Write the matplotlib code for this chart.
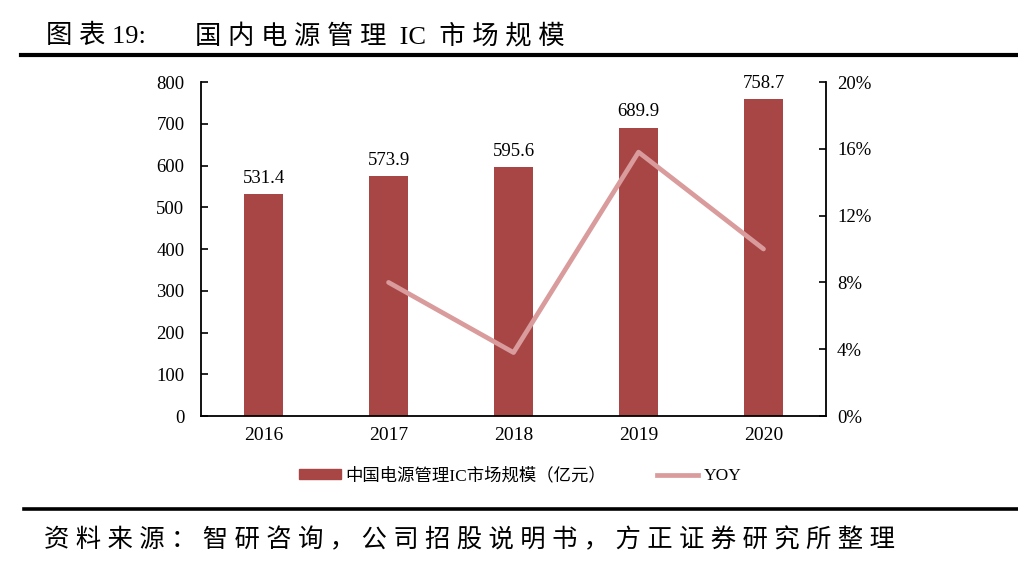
import matplotlib
matplotlib.use("Agg")
import matplotlib.pyplot as plt
from matplotlib.lines import Line2D
from matplotlib.patches import Patch
import numpy as np

plt.rcParams['font.family'] = ['Liberation Serif', 'Noto Sans CJK SC']

years = ['2016', '2017', '2018', '2019', '2020']
market_size = [531.4, 573.9, 595.6, 689.9, 758.7]
yoy_years = ['2017', '2018', '2019', '2020']
yoy = [0.080, 0.038, 0.158, 0.100]
left_ticks = [0, 100, 200, 300, 400, 500, 600, 700, 800]
right_ticks = [0, 0.04, 0.08, 0.12, 0.16, 0.20]

bar_color = '#A84646'
line_color = '#D99B9B'

W, H = 1018, 564
fig = plt.figure(figsize=(W / 100, H / 100), dpi=100)
ax = fig.add_axes([0.1975, 0.2624, 0.6139, 0.5922])
x = np.arange(len(years))
ax.bar(x, market_size, width=0.31, color=bar_color, zorder=2)
for xi, v in zip(x, market_size):
    ax.text(xi, v + 18, f'{v:.1f}', ha='center', va='bottom', fontsize=13.5)

ax.set_xlim(-0.5, len(years) - 0.5)
ax.set_ylim(0, 800)
ax.set_yticks(left_ticks)
ax.set_xticks(x)
ax.set_xticklabels(years)
ax.tick_params(axis='y', direction='in', length=5, width=1.2, labelsize=13.5, pad=12)
ax.tick_params(axis='x', length=0, labelsize=14, pad=8)
for s in ['top', 'right']:
    ax.spines[s].set_visible(False)
ax.spines['left'].set_linewidth(1.3)
ax.spines['bottom'].set_linewidth(1.3)

ax2 = ax.twinx()
xy = [years.index(y) for y in yoy_years]
ax2.plot(xy, yoy, color=line_color, lw=3.4, solid_capstyle='round', zorder=3)
ax2.set_ylim(0, 0.20)
ax2.set_yticks(right_ticks)
ax2.set_yticklabels([f'{int(round(t * 100))}%' for t in right_ticks])
ax2.tick_params(axis='y', direction='in', length=5, width=1.2, labelsize=13.5, pad=8)
for s in ['top', 'left', 'bottom']:
    ax2.spines[s].set_visible(False)
ax2.spines['right'].set_linewidth(1.3)

# legend
handles = [Patch(color=bar_color), Line2D([0], [0], color=line_color, lw=3.4)]
labels = ['中国电源管理IC市场规模（亿元）', 'YOY']
fig.legend(handles, labels, loc='center', bbox_to_anchor=(0.511, 0.156), ncol=2,
           frameon=False, columnspacing=2.9, handlelength=2.4, handleheight=0.5,
           handletextpad=0.3,
           prop={'family': ['Liberation Serif', 'Noto Sans CJK SC'], 'size': 12.5})

# title and rules
fig.text(46 / W, 0.937, '图 表 19:', fontsize=19, va='center', ha='left')
fig.text(195 / W, 0.937, '国 内 电 源 管 理  IC  市 场 规 模', fontsize=19,
         va='center', ha='left')
fig.add_artist(Line2D([0.021, 1.0], [0.902, 0.902], color='black', lw=3))
fig.add_artist(Line2D([0.024, 1.0], [0.098, 0.098], color='black', lw=2.6))
fig.text(44 / W, 0.043, ' '.join('资料来源：智研咨询，公司招股说明书，方正证券研究所整理'),
         fontsize=18.3, va='center', ha='left')

fig.savefig('out.png', dpi=100)
